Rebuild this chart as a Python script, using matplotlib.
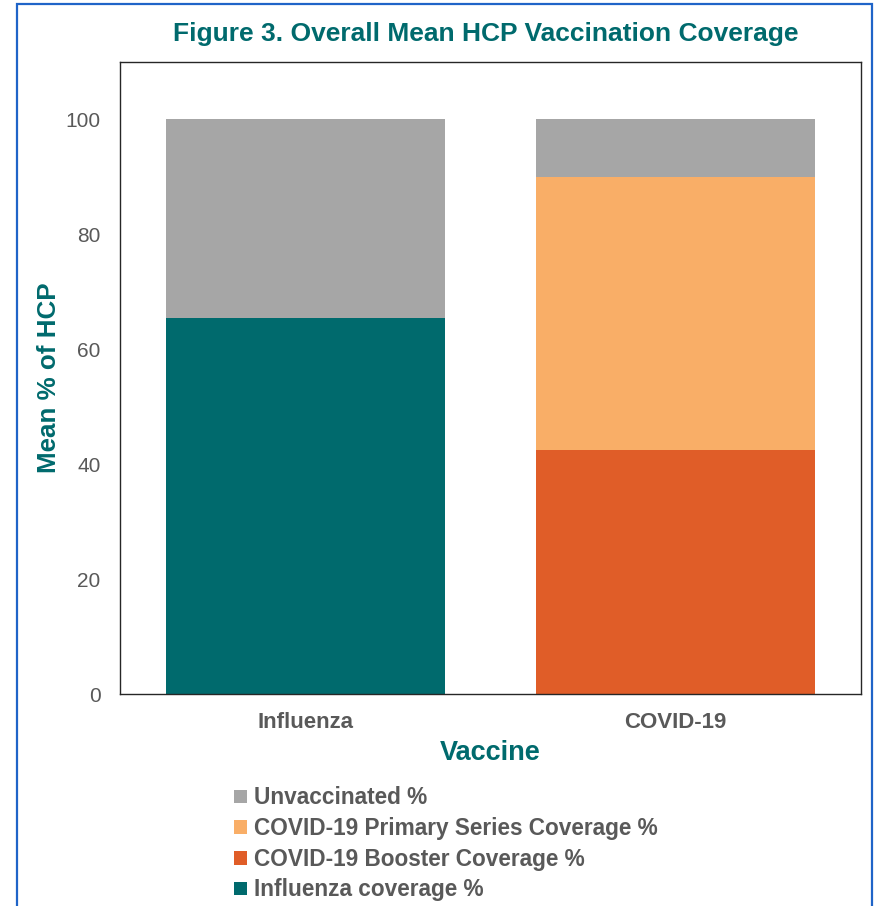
import numpy as np
import matplotlib.pyplot as plt
from matplotlib.patches import Rectangle

plt.rcParams['font.family'] = ['Liberation Sans', 'DejaVu Sans']

# Mean % of HCP by vaccine (stacked segments)
vaccines = ['Influenza', 'COVID-19']
influenza_cov = [65.5, 0]
booster_cov = [0, 42.5]
primary_cov = [0, 47.5]
unvaccinated = [34.5, 10.0]

teal = '#006A6D'
grey_txt = '#595959'

fig = plt.figure(figsize=(8.77, 9.06), dpi=100)
ax = fig.add_axes([120/877, 1 - 694/906, 741/877, 632/906])

x = np.arange(len(vaccines))
w = 0.753
b1 = np.array(influenza_cov)
b2 = b1 + np.array(booster_cov)
b3 = b2 + np.array(primary_cov)
h_flu = ax.bar(x, influenza_cov, w, color='#006A6D')
h_boost = ax.bar(x, booster_cov, w, bottom=b1, color='#E05D28')
h_prim = ax.bar(x, primary_cov, w, bottom=b2, color='#F9AE67')
h_unv = ax.bar(x, unvaccinated, w, bottom=b3, color='#A6A6A6')

ax.set_xlim(-0.5, 1.5)
ax.set_ylim(0, 110)
ax.set_yticks(np.arange(0, 101, 20))
ax.set_xticks(x)
ax.set_xticklabels(vaccines, fontsize=16, fontweight='bold', color=grey_txt)
ax.tick_params(axis='y', labelsize=15, labelcolor=grey_txt, length=0, pad=14)
ax.tick_params(axis='x', length=0, pad=13)
for s in ax.spines.values():
    s.set_linewidth(1.0)
    s.set_color('#262626')

ax.set_ylabel('Mean % of HCP', fontsize=18.7, fontweight='bold', color=teal)
ax.yaxis.set_label_coords(-59/741, 0.5)
ax.set_xlabel('Vaccine', fontsize=19.5, fontweight='bold', color=teal, labelpad=5)
fig.text(486/877, 1 - 34/906, 'Figure 3. Overall Mean HCP Vaccination Coverage',
         ha='center', va='center', fontsize=19, fontweight='bold', color=teal)

leg = fig.legend([h_unv, h_prim, h_boost, h_flu],
                 ['Unvaccinated %', 'COVID-19 Primary Series Coverage %',
                  'COVID-19 Booster Coverage %', 'Influenza coverage %'],
                 loc='upper left', bbox_to_anchor=(214/877, 1 - 766/906),
                 frameon=False, handlelength=0.55, handleheight=0.55,
                 handletextpad=0.3, labelspacing=0.34,
                 prop={'size': 16.3, 'weight': 'bold'})
for t in leg.get_texts():
    t.set_color(grey_txt)

# outer blue frame
fig.patches.append(Rectangle((17/877, -0.05), 855/877, 1.05 - 4/906,
                             transform=fig.transFigure, fill=False,
                             edgecolor='#1F64C8', linewidth=1.6))

plt.savefig('out.png', dpi=100)
